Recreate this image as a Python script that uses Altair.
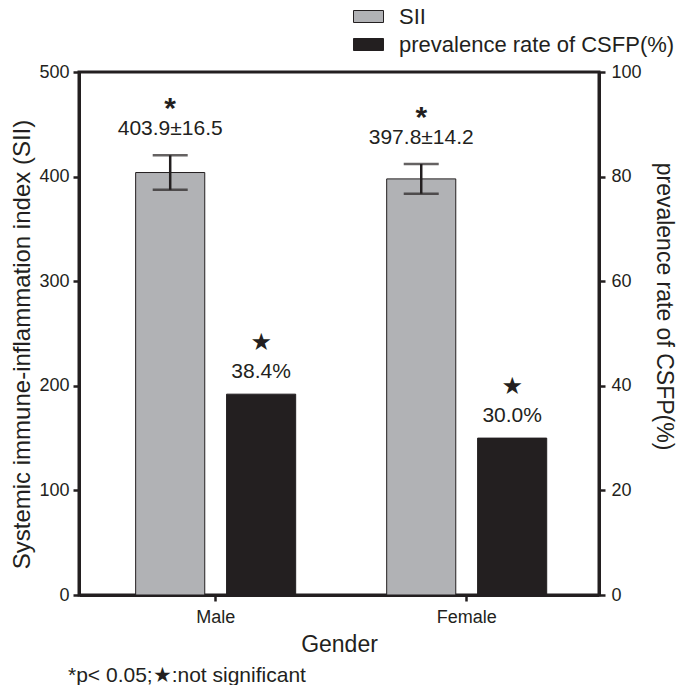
import altair as alt
import pandas as pd

genders = ["Male", "Female"]
series_names = ["SII", "prevalence rate of CSFP(%)"]
sii_mean = [403.9, 397.8]
sii_err = [16.5, 14.2]
csfp_rate = [38.4, 30.0]
sii_sig = ["*", "*"]
csfp_sig = ["★", "★"]
footnote = "*p< 0.05;★:not significant"

INK = "#231f20"
GRAY = "#b1b2b5"
FONT = "Liberation Sans"

sii_df = pd.DataFrame({
    "Gender": genders,
    "series": series_names[0],
    "value": sii_mean,
    "lo": [m - e for m, e in zip(sii_mean, sii_err)],
    "hi": [m + e for m, e in zip(sii_mean, sii_err)],
    "label": [f"{m}±{e}" for m, e in zip(sii_mean, sii_err)],
    "sig": sii_sig,
})
csfp_df = pd.DataFrame({
    "Gender": genders,
    "series": series_names[1],
    "value": csfp_rate,
    "label": [f"{v:.1f}%" for v in csfp_rate],
    "sig": csfp_sig,
})

x_enc = alt.X("Gender:N", sort=genders,
              scale=alt.Scale(paddingInner=0.3625, paddingOuter=0.217, align=0.52),
              axis=alt.Axis(title="Gender", labelAngle=0, labelPadding=7, titlePadding=7,
                            titleFontSize=23))
xo_enc = alt.XOffset("series:N",
                     scale=alt.Scale(domain=series_names, paddingInner=0.24, paddingOuter=0))
color_enc = alt.Color("series:N",
                      scale=alt.Scale(domain=series_names, range=[GRAY, INK]),
                      legend=alt.Legend(title=None, orient="none", legendX=274, legendY=-71,
                                        symbolType="M-1,-0.4H1V0.4H-1Z", symbolSize=900,
                                        symbolStrokeColor=INK, symbolStrokeWidth=1,
                                        labelFontSize=22, labelFont=FONT, labelColor=INK,
                                        labelLimit=0, labelOffset=15, rowPadding=1, padding=0))

left_axis = alt.Axis(title="Systemic immune-inflammation index (SII)", orient="left",
                     values=[0, 100, 200, 300, 400, 500], labelPadding=4, titlePadding=4,
                     titleFontSize=24, titleY=272)
right_axis = alt.Axis(title="prevalence rate of CSFP(%)", orient="right",
                      values=[0, 20, 40, 60, 80, 100], labelPadding=6, titlePadding=10,
                      titleFontSize=23, titleY=234)


def ys(field):
    return alt.Y(f"{field}:Q", scale=alt.Scale(domain=[0, 500], nice=False), axis=left_axis)


def yc(field):
    return alt.Y(f"{field}:Q", scale=alt.Scale(domain=[0, 100], nice=False), axis=right_axis)


sii_base = alt.Chart(sii_df)
sii_bar = sii_base.mark_bar(stroke=INK, strokeWidth=1).encode(
    x=x_enc, xOffset=xo_enc, y=ys("value"), color=color_enc)
sii_rule = sii_base.mark_rule(color=INK, strokeWidth=2.5).encode(
    x=x_enc, xOffset=xo_enc, y=ys("lo"), y2="hi:Q")
sii_cap_hi = sii_base.mark_tick(color=INK, size=35, thickness=2.5).encode(
    x=x_enc, xOffset=xo_enc, y=ys("hi"))
sii_cap_lo = sii_base.mark_tick(color=INK, size=35, thickness=2.5).encode(
    x=x_enc, xOffset=xo_enc, y=ys("lo"))
sii_text = sii_base.mark_text(fontSize=21, font=FONT, color=INK, baseline="alphabetic", dy=-20).encode(
    x=x_enc, xOffset=xo_enc, y=ys("hi"), text="label:N")
sii_star = sii_base.mark_text(fontSize=30, font=FONT, fontWeight="bold", color=INK,
                              baseline="alphabetic", dy=-37).encode(
    x=x_enc, xOffset=xo_enc, y=ys("hi"), text="sig:N")

sii_layer = alt.layer(sii_bar, sii_rule, sii_cap_hi, sii_cap_lo, sii_text, sii_star)

csfp_base = alt.Chart(csfp_df)
csfp_bar = csfp_base.mark_bar(stroke=INK, strokeWidth=1).encode(
    x=x_enc, xOffset=xo_enc, y=yc("value"), color=color_enc)
csfp_text = csfp_base.mark_text(fontSize=21, font=FONT, color=INK, baseline="alphabetic", dy=-16).encode(
    x=x_enc, xOffset=xo_enc, y=yc("value"), text="label:N")
csfp_star = csfp_base.mark_text(fontSize=24, font="DejaVu Sans", color=INK, baseline="middle", dy=-51).encode(
    x=x_enc, xOffset=xo_enc, y=yc("value"), text="sig:N")

csfp_layer = alt.layer(csfp_bar, csfp_text, csfp_star)

chart = alt.layer(sii_layer, csfp_layer).resolve_scale(y="independent").properties(
    width=520, height=523,
    autosize=alt.AutoSizeParams(type="none"),
    padding={"left": 71, "top": 64, "right": 78, "bottom": 90},
    title=alt.TitleParams(text=footnote, orient="bottom", anchor="start", frame="group",
                          fontSize=21, fontWeight="normal", font=FONT, color=INK,
                          offset=9, dx=-11),
).configure_view(stroke=INK, strokeWidth=3).configure_axis(
    grid=False, domainColor=INK, domainWidth=3, tickColor=INK, tickWidth=2.5, tickSize=6,
    labelFont=FONT, labelFontSize=18, labelColor=INK,
    titleFont=FONT, titleFontSize=22, titleFontWeight="normal", titleColor=INK,
)

chart.save("out.html", embed_options={"renderer": "svg", "actions": False})
